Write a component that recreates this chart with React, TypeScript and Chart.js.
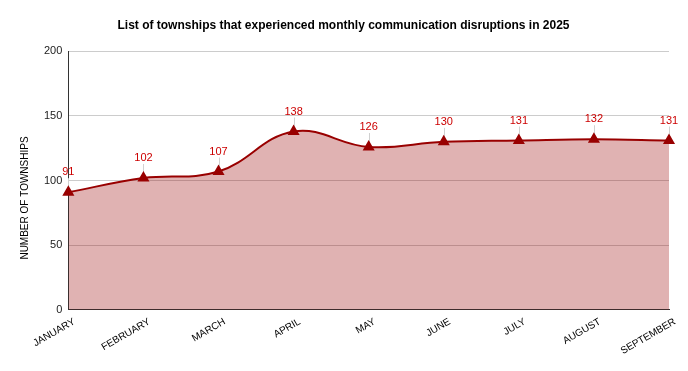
import React, { useEffect, useRef } from "react";
import { Chart, registerables } from "chart.js";

Chart.register(...registerables);

const months = ["JANUARY", "FEBRUARY", "MARCH", "APRIL", "MAY", "JUNE", "JULY", "AUGUST", "SEPTEMBER"];
const townships = [91, 102, 107, 138, 126, 130, 131, 132, 131];
const chartTitle = "List of townships that experienced monthly communication disruptions in 2025";
const yAxisTitle = "NUMBER OF TOWNSHIPS";

const FONT = "'Liberation Sans', Arial, Helvetica, sans-serif";

const valueLabels = {
  id: "valueLabels",
  beforeDatasetsDraw(chart: any) {
    const ctx = chart.ctx;
    const meta = chart.getDatasetMeta(0);
    ctx.save();
    ctx.strokeStyle = "#d0d0d0";
    ctx.lineWidth = 1;
    meta.data.forEach((pt: any) => {
      const x = Math.round(pt.x) + 0.5;
      ctx.beginPath();
      ctx.moveTo(x, pt.y - 14);
      ctx.lineTo(x, pt.y - 4);
      ctx.stroke();
    });
    ctx.restore();
  },
  afterDatasetsDraw(chart: any) {
    const ctx = chart.ctx;
    const meta = chart.getDatasetMeta(0);
    const data = chart.data.datasets[0].data;
    ctx.save();
    ctx.fillStyle = "#cc0000";
    ctx.font = `11px ${FONT}`;
    ctx.textAlign = "center";
    ctx.textBaseline = "middle";
    meta.data.forEach((pt: any, i: number) => {
      ctx.fillText(String(data[i]), pt.x, pt.y - 20);
    });
    ctx.restore();
  },
  afterDraw(chart: any) {
    const ctx = chart.ctx;
    ctx.save();
    ctx.fillStyle = "#000";
    ctx.font = `10px ${FONT}`;
    ctx.textAlign = "center";
    ctx.textBaseline = "middle";
    ctx.translate(25, 198);
    ctx.rotate(-Math.PI / 2);
    ctx.fillText(yAxisTitle, 0, 0);
    ctx.restore();
  },
};

export default function App() {
  const ref = useRef<HTMLCanvasElement | null>(null);
  useEffect(() => {
    document.body.style.margin = "0";
    const chart = new Chart(ref.current as HTMLCanvasElement, {
      type: "line",
      data: {
        labels: months,
        datasets: [
          {
            data: townships,
            borderColor: "#990000",
            backgroundColor: "rgba(153,0,0,0.3)",
            fill: "origin",
            borderWidth: 2,
            tension: 0.4,
            pointStyle: "triangle",
            pointRadius: 5,
            pointBackgroundColor: "#990000",
            pointBorderColor: "#990000",
          },
        ],
      },
      options: {
        animation: false,
        responsive: false,
        maintainAspectRatio: false,
        layout: { padding: { left: 18, right: 19, top: 10, bottom: 8 } },
        plugins: {
          legend: { display: false },
          tooltip: { enabled: false },
          title: {
            display: true,
            text: chartTitle,
            color: "#000",
            font: { family: FONT, size: 12, weight: "bold" },
            padding: { top: 8, bottom: 19 },
          },
        },
        scales: {
          x: {
            offset: false,
            grid: { display: false, drawTicks: false },
            border: { display: true, color: "#333", width: 1 },
            ticks: {
              color: "#000",
              font: { family: FONT, size: 10 },
              maxRotation: 30,
              minRotation: 30,
              padding: 6,
              labelOffset: 6,
              autoSkip: false,
            },
          },
          y: {
            min: 0,
            max: 200,
            grid: { color: "#cccccc", drawTicks: false },
            border: { display: true, color: "#333", width: 1 },
            ticks: {
              stepSize: 50,
              color: "#222",
              font: { family: FONT, size: 11 },
              padding: 6,
            },
            title: {
              display: true,
              text: yAxisTitle,
              color: "rgba(0,0,0,0)",
              font: { family: FONT, size: 10 },
              padding: { top: 0, bottom: 8 },
            },
          },
        },
      },
      plugins: [valueLabels],
    });
    return () => chart.destroy();
  }, []);
  return (
    <div style={{ width: 688, height: 371 }}>
      <canvas ref={ref} width={688} height={371} style={{ display: "block" }} />
    </div>
  );
}
